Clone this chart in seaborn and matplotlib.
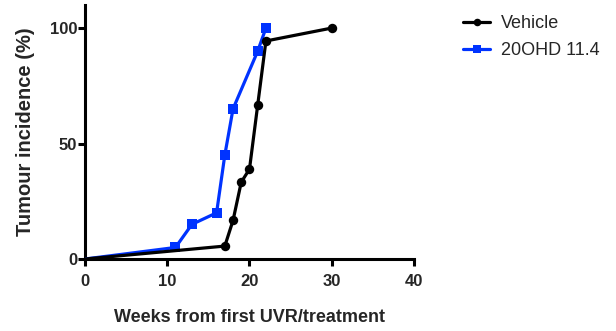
import matplotlib
matplotlib.use("Agg")
import matplotlib.pyplot as plt
import seaborn as sns
import pandas as pd

# Cumulative tumour incidence per group
vehicle_weeks = [0, 17, 18, 19, 20, 21, 22, 30]
vehicle_pct = [0, 5.6, 16.7, 33.3, 38.9, 66.7, 94.4, 100]

ohd_weeks = [0, 11, 13, 16, 17, 18, 21, 22]
ohd_pct = [0, 5, 15, 20, 45, 65, 90, 100]

series_names = ["Vehicle", "20OHD 11.4"]
x_ticks = [0, 10, 20, 30, 40]
y_ticks = [0, 50, 100]

sns.set_style("ticks")
plt.rcParams["font.family"] = ["Liberation Sans", "DejaVu Sans"]

fig = plt.figure(figsize=(6.16, 3.31), dpi=100)
ax = fig.add_axes([0.138, 0.2175, 0.534, 0.7675])

blue = "#0033ff"
lw = 2.3

vehicle_df = pd.DataFrame({"week": vehicle_weeks, "pct": vehicle_pct})
ohd_df = pd.DataFrame({"week": ohd_weeks, "pct": ohd_pct})

sns.lineplot(data=ohd_df, x="week", y="pct", ax=ax, color=blue, lw=lw,
             marker="s", markersize=6.5, markeredgewidth=0, sort=False,
             estimator=None, markevery=list(range(1, len(ohd_weeks))),
             label=series_names[1], zorder=3)
sns.lineplot(data=vehicle_df, x="week", y="pct", ax=ax, color="black", lw=lw,
             marker="o", markersize=6.8, markeredgewidth=0, sort=False,
             estimator=None, markevery=list(range(1, len(vehicle_weeks))),
             label=series_names[0], zorder=4)

ax.set_xlim(0, 40)
ax.set_ylim(0, 110)
ax.set_xticks(x_ticks)
ax.set_yticks(y_ticks)
ax.set_xticklabels([str(t) for t in x_ticks], fontsize=12, fontweight="bold")
ax.set_yticklabels([str(t) for t in y_ticks], fontsize=12, fontweight="bold")

for side in ("top", "right"):
    ax.spines[side].set_visible(False)
for side in ("left", "bottom"):
    ax.spines[side].set_linewidth(2.2)
    ax.spines[side].set_color("black")
ax.tick_params(axis="both", which="major", length=5, width=2.2,
               color="black", direction="out")
ax.tick_params(axis="x", pad=5.5)
ax.tick_params(axis="y", pad=0.5)

ax.set_xlabel("Weeks from first UVR/treatment", fontsize=13,
              fontweight="bold", labelpad=15)
ax.set_ylabel("Tumour incidence (%)", fontsize=14.5, fontweight="bold",
              labelpad=11)

handles, labels = ax.get_legend_handles_labels()
order = [labels.index(n) for n in series_names]
ax.legend([handles[i] for i in order], [labels[i] for i in order],
          loc="upper left", bbox_to_anchor=(463 / 616, 1 - 15 / 331),
          bbox_transform=fig.transFigure, frameon=False, fontsize=13,
          handlelength=1.5, handletextpad=0.6, labelspacing=0.55,
          markerscale=0.8, borderpad=0, borderaxespad=0)

fig.savefig("out.png", dpi=100)
